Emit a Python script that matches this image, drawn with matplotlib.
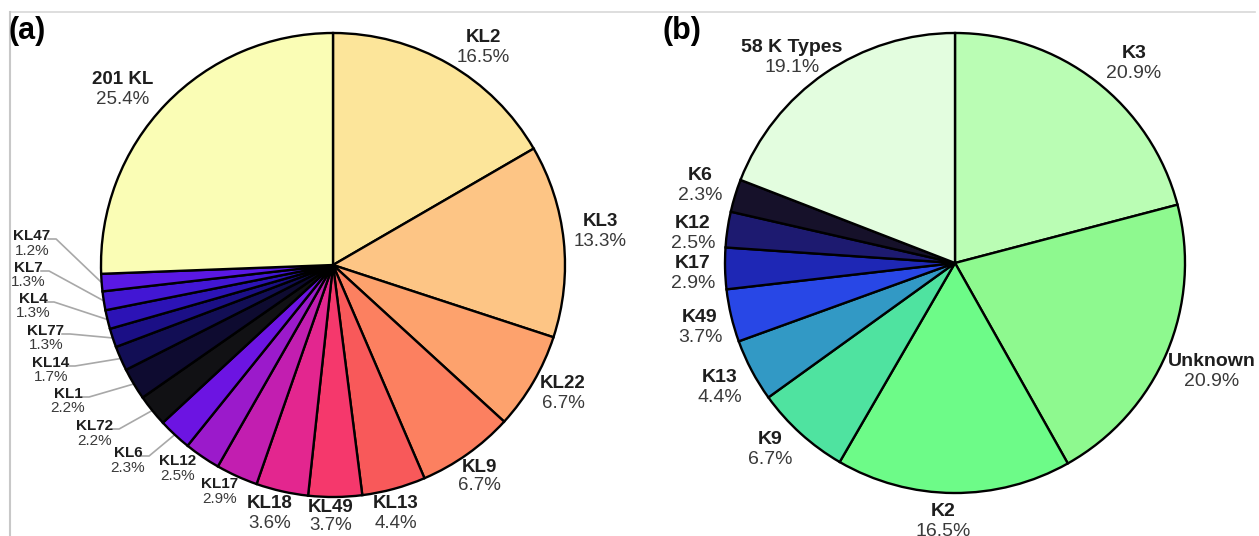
import matplotlib
matplotlib.use("Agg")
import matplotlib.pyplot as plt
import numpy as np

plt.rcParams['font.family'] = ['Liberation Sans', 'DejaVu Sans']

# ---- Panel (a): KL types ----
kl_labels = ["KL2", "KL3", "KL22", "KL9", "KL13", "KL49", "KL18", "KL17", "KL12",
             "KL6", "KL72", "KL1", "KL14", "KL77", "KL4", "KL7", "KL47", "201 KL"]
kl_values = [16.5, 13.3, 6.7, 6.7, 4.4, 3.7, 3.6, 2.9, 2.5,
             2.3, 2.2, 2.2, 1.7, 1.3, 1.3, 1.3, 1.2, 25.4]
kl_colors = ["#FCE59A", "#FDC585", "#FDA26D", "#FC8060", "#F8595A", "#F5386C",
             "#E3268F", "#C21EB0", "#9B1ACB", "#6C14E2", "#111114", "#0E0B30",
             "#120E55", "#1B0F86", "#2C13B6", "#4216D4", "#5A18E4", "#FAFDB5"]

# ---- Panel (b): K types ----
k_labels = ["K3", "Unknown", "K2", "K9", "K13", "K49", "K17", "K12", "K6", "58 K Types"]
k_values = [20.9, 20.9, 16.5, 6.7, 4.4, 3.7, 2.9, 2.5, 2.3, 19.1]
k_colors = ["#BAFDB4", "#8EF98F", "#6DFB88", "#4FE3A0", "#3299C5", "#2847E6",
            "#1E27B5", "#1D1A70", "#16112A", "#E3FDDF"]

W, H = 1259, 536
fig = plt.figure(figsize=(W / 100, H / 100), dpi=100)
ax = fig.add_axes([0, 0, 1, 1])


def Y(y):
    return H - y


# label layout: (x, y of name line, font size, gap to % line, leader?)
kl_layout = {
    "KL2": (483, 38, 13.5, 19, False), "KL3": (600, 222, 13.5, 19, False),
    "KL22": (563, 384, 13.5, 19, False), "KL9": (479, 467, 13.5, 19, False),
    "KL13": (396, 504, 13.5, 19, False), "KL49": (331, 507, 13.5, 19, False),
    "KL18": (270, 504, 13.5, 19, False), "KL17": (220, 484, 11, 15, False),
    "KL12": (178, 461, 11, 15, False), "KL6": (128, 453, 11, 15, True),
    "KL72": (95, 426, 11, 15, True), "KL1": (68, 394, 11, 14, True),
    "KL14": (51, 363, 11, 14, True), "KL77": (46, 331, 11, 14, True),
    "KL4": (33, 299, 11, 14, True), "KL7": (28, 268, 11, 14, True),
    "KL47": (32, 236, 11, 15, True), "201 KL": (123, 80, 13.5, 19, False),
}
k_layout = {
    "K3": (1134, 54, 14, 20, False), "Unknown": (1212, 361, 14, 20, False),
    "K2": (943, 512, 14, 20, False), "K9": (770, 440, 14, 20, False),
    "K13": (720, 377, 14, 20, False), "K49": (700, 317, 14, 20, False),
    "K17": (693, 264, 14, 20, False), "K12": (693, 224, 14, 20, False),
    "K6": (700, 176, 14, 20, False), "58 K Types": (792, 47, 14, 20, False),
}


def draw_pie(labels, values, colors, center, radius, layout):
    cx, cy = center
    wedges, _ = ax.pie(values, colors=colors, startangle=90, counterclock=False,
                       center=(cx, Y(cy)), radius=radius, frame=True,
                       wedgeprops=dict(edgecolor="black", linewidth=1.7))
    for w, lab, val in zip(wedges, labels, values):
        x, y, fs, gap, leader = layout[lab]
        ax.text(x, Y(y), lab, ha="center", va="center", fontsize=fs,
                fontweight="bold", color="#1E1E1E")
        ax.text(x, Y(y + gap), f"{val:.1f}%", ha="center", va="center",
                fontsize=fs, color="#3A3A3A")
        if leader:
            ang = np.deg2rad((w.theta1 + w.theta2) / 2)
            ex = cx + radius * np.cos(ang)
            ey = Y(cy) + radius * np.sin(ang)
            tw = len(lab) * fs * 0.55
            sx = x + tw / 2 + 4
            ax.plot([sx, sx + 8, ex], [Y(y + 3), Y(y + 3), ey],
                    color="#A8A8A8", lw=1.2, zorder=0.5)
    return wedges


draw_pie(kl_labels, kl_values, kl_colors, (333, 265), 232, kl_layout)
draw_pie(k_labels, k_values, k_colors, (955, 263), 230, k_layout)

# panel letters
ax.text(9, Y(31), "(a)", fontsize=22, fontweight="bold", ha="left", va="center")
ax.text(663, Y(31), "(b)", fontsize=22, fontweight="bold", ha="left", va="center")

# thin frame lines at top and left
ax.plot([10, 1255], [Y(12), Y(12)], color="#D8D8D8", lw=1.2)
ax.plot([10, 10], [Y(12), 0], color="#C8C8C8", lw=1.5)

ax.set_xlim(0, W)
ax.set_ylim(0, H)
ax.set_aspect("equal", adjustable="box")
ax.axis("off")

fig.savefig("out.png", dpi=100)
